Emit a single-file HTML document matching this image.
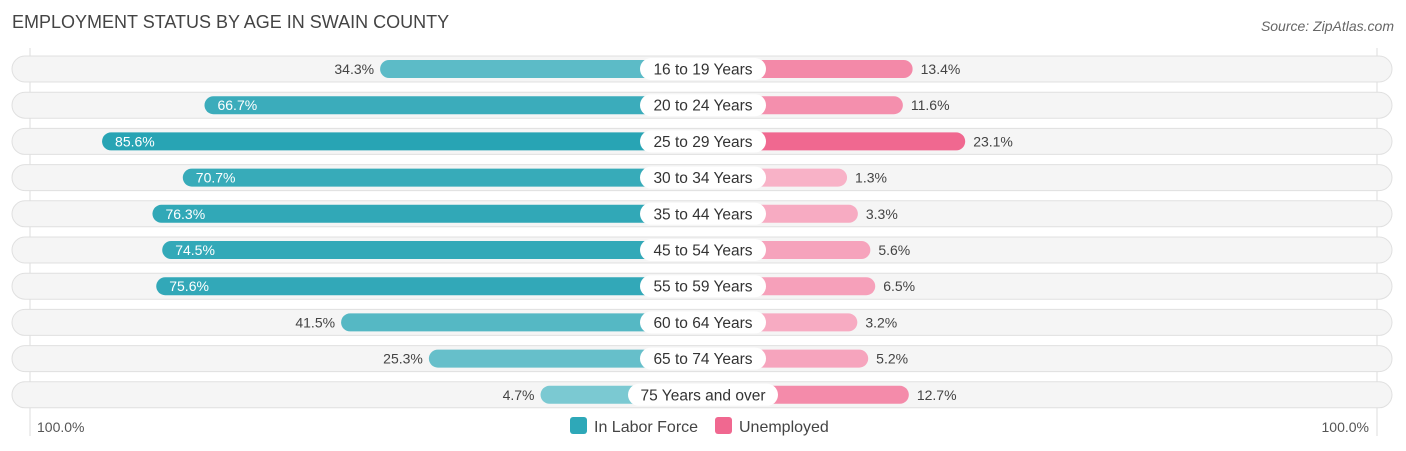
<!DOCTYPE html>
<html><head><meta charset="utf-8"><style>
body{margin:0;background:#fff;font-family:"Liberation Sans",sans-serif;}
svg{display:block}
</style></head><body>
<svg id="c" width="1406" height="451">
<text x="12" y="28" font-size="18" fill="#444">EMPLOYMENT STATUS BY AGE IN SWAIN COUNTY</text>
<text x="1394" y="31" font-size="14" fill="#666" font-style="italic" text-anchor="end">Source: ZipAtlas.com</text>
<line x1="30" y1="48" x2="30" y2="436" stroke="#ddd"/>
<line x1="1377" y1="48" x2="1377" y2="436" stroke="#ddd"/>
<g id="rows"></g>
<text x="37" y="432" font-size="14" fill="#555">100.0%</text>
<text x="1369" y="432" font-size="14" fill="#555" text-anchor="end">100.0%</text>
<rect x="570" y="417" width="17" height="17" rx="3" fill="#2ea8b8"/>
<text x="594" y="432" font-size="16" fill="#444">In Labor Force</text>
<rect x="715" y="417" width="17" height="17" rx="3" fill="#f06890"/>
<text x="739" y="432" font-size="16" fill="#444">Unemployed</text>
</svg>
<script>
const categories=["16 to 19 Years","20 to 24 Years","25 to 29 Years","30 to 34 Years","35 to 44 Years","45 to 54 Years","55 to 59 Years","60 to 64 Years","65 to 74 Years","75 Years and over"];
const laborForce=[34.3,66.7,85.6,70.7,76.3,74.5,75.6,41.5,25.3,4.7];
const unemployed=[13.4,11.6,23.1,1.3,3.3,5.6,6.5,3.2,5.2,12.7];
const NS="http://www.w3.org/2000/svg";
const g=document.getElementById('rows');
const cx=703, off=137, k=5.42;
function lx(v){return cx-off-v*k;}
function rx(v){return cx+off+v*k;}
function mix(a,b,t){const p=s=>[1,3,5].map(i=>parseInt(s.substr(i,2),16));const A=p(a),B=p(b);return 'rgb('+A.map((x,i)=>Math.round(x+(B[i]-x)*t)).join(',')+')';}
function mk(tag,attrs){const e=document.createElementNS(NS,tag);for(const a in attrs)e.setAttribute(a,attrs[a]);g.appendChild(e);return e;}
categories.forEach((c,i)=>{
 const y=69+i*36.2;
 const bg=mk('rect',{x:12,y:y-13,width:1380,height:26,rx:13,fill:'#f5f5f5',stroke:'#e0e0e0'});
 
 
 const lv=laborForce[i];
 const tl=Math.min(1,lv/85);
 const lb=mk('rect',{x:lx(lv),y:y-9,width:cx-lx(lv),height:18,rx:9,fill:mix('#80cbd4','#28a4b4',tl)});
 
 
 const uv=unemployed[i];
 const tu=Math.min(1,uv/23);
 const ub=mk('rect',{x:cx,y:y-9,width:rx(uv)-cx,height:18,rx:9,fill:mix('#f8b6ca','#f06890',tu)});
 
 
 const inside=lv>50;
 const lt=mk('text',{x:inside?lx(lv)+13:lx(lv)-6,y:y+5,'font-size':14,fill:inside?'#fff':'#444','text-anchor':inside?'start':'end'});
 lt.textContent=lv.toFixed(1)+'%';
 
 
 const ut=mk('text',{x:rx(uv)+8,y:y+5,'font-size':14,fill:'#444'});
 ut.textContent=uv.toFixed(1)+'%';
 
 
 const w=c.length>14?150:126;
 const pill=mk('rect',{x:cx-w/2,y:y-11,width:w,height:22,rx:11,fill:'#fff'});
 
 
 const ct=mk('text',{x:cx,y:y+5.5,'font-size':15.5,fill:'#333','text-anchor':'middle'});
 ct.textContent=c;
 
 
});
</script>
</body></html>
